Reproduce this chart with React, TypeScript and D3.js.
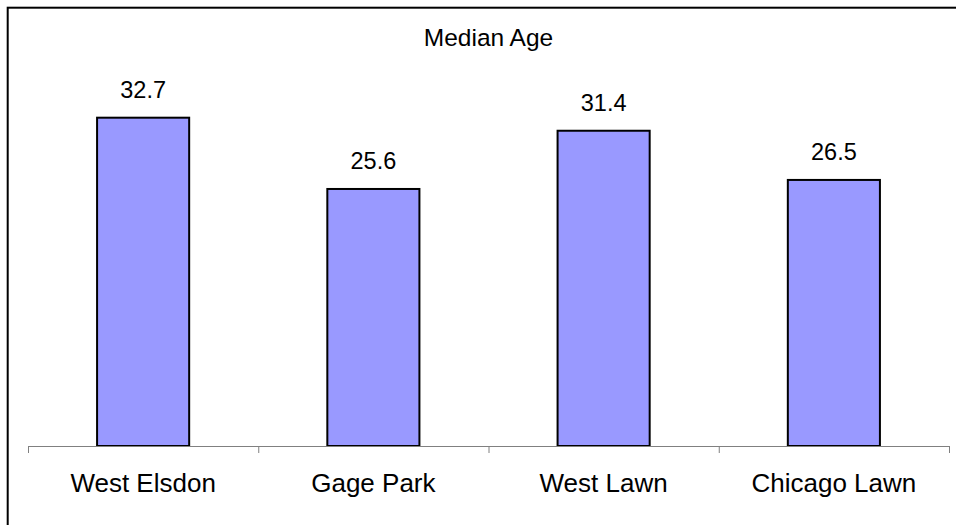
import React from "react";
import * as d3 from "d3";

const categories = ["West Elsdon", "Gage Park", "West Lawn", "Chicago Lawn"];
const values = [32.7, 25.6, 31.4, 26.5];
const valueLabels = ["32.7", "25.6", "31.4", "26.5"];
const title = "Median Age";

export default function App() {
  const W = 956;
  const H = 525;
  const axisLeft = 28;
  const axisRight = 949;
  const axisY = 446;
  const x = d3.scaleBand<string>().domain(categories).range([axisLeft, axisRight]).padding(0);
  const y = d3.scaleLinear().domain([0, 40]).range([axisY, 44.4]);
  const barW = x.bandwidth() * 0.4;
  const ticks = [...categories.map((c) => x(c) as number), axisRight];
  const font = "'Liberation Sans', Arial, sans-serif";
  const cx = (axisLeft + axisRight) / 2;

  return (
    <svg
      width={W}
      height={H}
      style={{ position: "absolute", left: 0, top: 0, background: "#fff" }}
      fontFamily={font}
    >
      <rect x={0} y={0} width={W} height={H} fill="#fff" />
      <rect x={7.7} y={7.7} width={W + 20} height={H + 20} fill="none" stroke="#000" strokeWidth={2} />
      <text x={cx} y={46} textAnchor="middle" fontSize={24.5} fill="#000">
        {title}
      </text>
      {categories.map((c, i) => {
        const bx = (x(c) as number) + x.bandwidth() / 2 - barW / 2;
        const by = y(values[i]);
        return (
          <g key={c}>
            <rect
              x={bx}
              y={by}
              width={barW}
              height={axisY - by}
              fill="#9999FF"
              stroke="#000"
              strokeWidth={2}
            />
            <text
              x={(x(c) as number) + x.bandwidth() / 2}
              y={by - 20}
              textAnchor="middle"
              fontSize={23.5}
              fill="#000"
            >
              {valueLabels[i]}
            </text>
            <text
              x={(x(c) as number) + x.bandwidth() / 2}
              y={491.5}
              textAnchor="middle"
              fontSize={26}
              fill="#000"
            >
              {c}
            </text>
          </g>
        );
      })}
      <line x1={axisLeft} x2={axisRight} y1={axisY + 0.5} y2={axisY + 0.5} stroke="#808080" strokeWidth={1} />
      {ticks.map((t, i) => (
        <line key={i} x1={t + 0.5} x2={t + 0.5} y1={axisY} y2={axisY + 7} stroke="#808080" strokeWidth={1} />
      ))}
    </svg>
  );
}
